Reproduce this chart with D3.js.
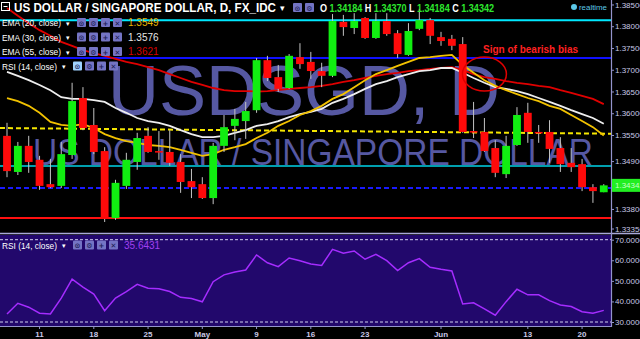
<!DOCTYPE html>
<html>
<head>
<meta charset="utf-8">
<script src="https://cdn.jsdelivr.net/npm/d3@7"></script>
<style>
  html, body { margin: 0; padding: 0; background: #000; }
  svg { display: block; font-family: "Liberation Sans", Arial, sans-serif; }
</style>
</head>
<body>
<svg id="chart" width="640" height="339"></svg>
<script>
// USD/SGD daily, 6 Apr - 22 Jun 2016
const opens  = [1.3548,1.3465,1.3525,1.3493,1.3437,1.3433,1.3504,1.3635,1.3573,1.3513,
                1.3359,1.3433,1.3488,1.3548,1.3513,1.3511,1.3488,1.3444,1.3437,1.3405,
                1.3525,1.3571,1.3582,1.3607,1.3722,1.3683,1.3658,1.3729,1.3718,1.3697,
                1.3686,1.3810,1.3796,1.3819,1.3773,1.3812,1.3784,1.3734,1.3794,1.3814,
                1.3775,1.3771,1.3759,1.3559,1.3557,1.3520,1.3460,1.3527,1.3601,1.3557,
                1.3557,1.3520,1.3486,1.3483,1.3430,1.34184];
const highs  = [1.3578,1.3534,1.3548,1.3502,1.3495,1.3534,1.3670,1.3660,1.3612,1.3522,
                1.3447,1.3509,1.3555,1.3568,1.3559,1.3561,1.3506,1.3472,1.3453,1.3532,
                1.3596,1.3610,1.3626,1.3727,1.3732,1.3711,1.3736,1.3761,1.3741,1.3716,
                1.3828,1.3826,1.3830,1.3821,1.3830,1.3830,1.3791,1.3807,1.3840,1.3819,
                1.3787,1.3780,1.3775,1.3626,1.3589,1.3538,1.3548,1.3614,1.3624,1.3573,
                1.3584,1.3545,1.3520,1.3495,1.3437,1.34370];
const lows   = [1.3453,1.3458,1.3463,1.3424,1.3428,1.3428,1.3495,1.3561,1.3506,1.3350,
                1.3355,1.3426,1.3470,1.3509,1.3493,1.3479,1.3417,1.3405,1.3403,1.3391,
                1.3511,1.3538,1.3541,1.3601,1.3674,1.3649,1.3656,1.3702,1.3679,1.3660,
                1.3683,1.3778,1.3782,1.3771,1.3771,1.3778,1.3727,1.3732,1.3791,1.3759,
                1.3755,1.3745,1.3555,1.3543,1.3511,1.3453,1.3451,1.3525,1.3532,1.3532,
                1.3486,1.3465,1.3465,1.3421,1.3394,1.34184];
const closes = [1.3467,1.3525,1.3488,1.3433,1.3430,1.3506,1.3628,1.3566,1.3511,1.3357,
                1.3440,1.3493,1.3543,1.3511,1.3511,1.3486,1.3442,1.3430,1.3405,1.3525,
                1.3568,1.3587,1.3605,1.3722,1.3681,1.3656,1.3732,1.3713,1.3697,1.3686,
                1.3812,1.3798,1.3812,1.3773,1.3812,1.3782,1.3736,1.3789,1.3814,1.3778,
                1.3766,1.3755,1.3557,1.3557,1.3513,1.3463,1.3525,1.3596,1.3557,1.3555,
                1.3518,1.3483,1.3476,1.3430,1.3421,1.34342];

const ema20 = [1.3635,1.3628,1.3617,1.3601,1.3580,1.3573,1.3571,1.3575,1.3566,1.3552,
               1.3543,1.3536,1.3532,1.3527,1.3525,1.3522,1.3516,1.3509,1.3502,1.3506,
               1.3516,1.3522,1.3529,1.3543,1.3555,1.3571,1.3582,1.3596,1.3605,1.3617,
               1.3633,1.3644,1.3660,1.3676,1.3690,1.3699,1.3709,1.3718,1.3727,1.3729,
               1.3732,1.3734,1.3711,1.3693,1.3676,1.3663,1.3653,1.3644,1.3635,1.3628,
               1.3617,1.3610,1.3596,1.3582,1.3568,1.3549];
const ema30 = [1.3695,1.3686,1.3676,1.3665,1.3653,1.3637,1.3633,1.3633,1.3630,1.3626,
               1.3612,1.3601,1.3589,1.3582,1.3578,1.3571,1.3561,1.3552,1.3545,1.3545,
               1.3548,1.3555,1.3561,1.3571,1.3575,1.3582,1.3591,1.3598,1.3603,1.3610,
               1.3624,1.3633,1.3644,1.3656,1.3667,1.3674,1.3683,1.3690,1.3697,1.3699,
               1.3704,1.3704,1.3693,1.3681,1.3670,1.3660,1.3656,1.3651,1.3644,1.3635,
               1.3626,1.3617,1.3607,1.3598,1.3589,1.3576];
const ema55 = [1.3842,1.3824,1.3807,1.3791,1.3778,1.3764,1.3755,1.3745,1.3738,1.3732,
               1.3725,1.3718,1.3713,1.3706,1.3699,1.3690,1.3681,1.3672,1.3665,1.3658,
               1.3653,1.3651,1.3651,1.3650,1.3651,1.3653,1.3656,1.3658,1.3660,1.3663,
               1.3667,1.3672,1.3676,1.3681,1.3686,1.3690,1.3693,1.3697,1.3699,1.3702,
               1.3704,1.3706,1.3699,1.3690,1.3683,1.3679,1.3674,1.3670,1.3667,1.3663,
               1.3660,1.3653,1.3647,1.3640,1.3633,1.3621];
const rsi14 = [33.9,39.1,37.2,34.3,33.9,41.6,50.8,46.9,43.6,35.5,
               41.6,44.8,48.3,46.4,46.2,44.8,42.0,41.4,39.8,49.6,
               52.9,54.3,55.3,62.6,58.8,56.9,61.1,59.8,58.2,57.5,
               65.3,63.4,64.5,60.5,62.9,59.8,55.0,58.8,60.8,56.6,
               55.6,54.8,38.8,39.3,36.4,33.3,39.9,45.9,43.2,43.2,
               40.4,38.3,37.5,35.0,34.3,35.6431];

const priceTicks = [1.385,1.38,1.375,1.37,1.365,1.36,1.355,1.349,1.338,1.3335];
const rsiTicks = [70,60,50,40,30];
const tickDays = ["2016-04-11","2016-04-18","2016-04-25","2016-05-02","2016-05-09",
                  "2016-05-16","2016-05-23","2016-06-01","2016-06-13","2016-06-20"];
const tickLabels = ["11","18","25","May","9","16","23","Jun","13","20"];

// drawn levels and the slanted trend line
const levels = [1.3814, 1.3727, 1.3479, 1.3428, 1.3359];
const trendLine = [1.3566, 1.3553];
const bearishMark = {day: 44, price: 1.3690};

const levelStyle = [
  {stroke: "#00e8ff", width: 2, dash: null},
  {stroke: "#1010ff", width: 2, dash: null},
  {stroke: "#00d4e8", width: 1.5, dash: null},
  {stroke: "#1a1aff", width: 2, dash: "5,3"},
  {stroke: "#ff1010", width: 2, dash: null}
];

const svg = d3.select("#chart");
const plotRight = 611;
const priceBottom = 231;

const parseDay = d3.utcParse("%Y-%m-%d");
const days = d3.utcDay.range(parseDay("2016-04-06"), parseDay("2016-06-23"))
  .filter(d => d.getUTCDay() % 6 !== 0);

const x = d3.scaleBand()
  .domain(days.map(d => +d))
  .range([1.58, 609.2])
  .paddingInner(0.28)
  .paddingOuter(0.14);
const cx = i => x(+days[i]) + x.bandwidth() / 2;

const y = d3.scaleLinear().domain([1.33293, 1.38603]).range([priceBottom, 0]);
const ry = d3.scaleLinear().domain([30, 70]).range([322, 239.7]);

svg.append("rect").attr("width", 640).attr("height", 339).attr("fill", "#000");

const defs = svg.append("defs");
defs.append("clipPath").attr("id", "clipPrice")
  .append("rect").attr("x", 0).attr("y", 0).attr("width", plotRight).attr("height", priceBottom);
defs.append("clipPath").attr("id", "clipRsi")
  .append("rect").attr("x", 0).attr("y", 235).attr("width", plotRight).attr("height", 91);

// watermark
const wm = svg.append("g").attr("fill", "#5658a2");
wm.append("text").attr("x", 108).attr("y", 115)
  .attr("font-size", 70).attr("textLength", 392).attr("lengthAdjust", "spacingAndGlyphs")
  .text("USDSGD, D");
wm.append("text").attr("x", 33).attr("y", 165)
  .attr("font-size", 36).attr("textLength", 560).attr("lengthAdjust", "spacingAndGlyphs")
  .text("US DOLLAR / SINGAPORE DOLLAR");

const price = svg.append("g").attr("clip-path", "url(#clipPrice)");

// horizontal levels
price.selectAll("line.level").data(levels).enter().append("line")
  .attr("class", "level")
  .attr("x1", 0).attr("x2", plotRight)
  .attr("y1", d => y(d)).attr("y2", d => y(d))
  .attr("stroke", (d, i) => levelStyle[i].stroke)
  .attr("stroke-width", (d, i) => levelStyle[i].width)
  .attr("stroke-dasharray", (d, i) => levelStyle[i].dash);

price.append("line")
  .attr("x1", 0).attr("x2", plotRight)
  .attr("y1", y(trendLine[0])).attr("y2", y(trendLine[1]))
  .attr("stroke", "#f5e600").attr("stroke-width", 2).attr("stroke-dasharray", "5,3");

// moving averages
const emaLine = d3.line().x((v, i) => cx(i)).y(v => y(v));
[[ema55, "#e00000"], [ema30, "#eeeeee"], [ema20, "#f2c200"]].forEach(([s, col]) => {
  price.append("path").datum(s)
    .attr("d", emaLine)
    .attr("fill", "none")
    .attr("stroke", col)
    .attr("stroke-width", 1.8);
});

// candles
const candles = days.map((d, i) => ({i, o: opens[i], h: highs[i], l: lows[i], c: closes[i]}));
const cg = price.selectAll("g.candle").data(candles).enter().append("g").attr("class", "candle");
cg.append("line")
  .attr("x1", d => cx(d.i)).attr("x2", d => cx(d.i))
  .attr("y1", d => y(d.h)).attr("y2", d => y(d.l))
  .attr("stroke", "#c4c4c4").attr("stroke-width", 1);
cg.append("rect")
  .attr("x", d => x(+days[d.i]))
  .attr("width", x.bandwidth())
  .attr("y", d => y(Math.max(d.o, d.c)))
  .attr("height", d => Math.max(1.5, Math.abs(y(d.o) - y(d.c))))
  .attr("fill", d => d.c >= d.o ? "#11ee11" : "#ff0a0a");

// annotation
const ann = svg.append("g");
ann.append("ellipse")
  .attr("cx", cx(bearishMark.day)).attr("cy", y(bearishMark.price))
  .attr("rx", 22).attr("ry", 17)
  .attr("fill", "none").attr("stroke", "#e00000").attr("stroke-width", 1.5);
ann.append("text").attr("x", 483).attr("y", 53)
  .attr("font-size", 10).attr("font-weight", "bold").attr("fill", "#ff2020")
  .text("Sign of bearish bias");

// pane separator
svg.append("line").attr("x1", 0).attr("x2", 640).attr("y1", 233.5).attr("y2", 233.5)
  .attr("stroke", "#a8a8d8").attr("stroke-width", 1.5);

// RSI pane
svg.append("rect").attr("x", 0).attr("y", 235).attr("width", plotRight).attr("height", 91)
  .attr("fill", "#22086c");
const rsiG = svg.append("g").attr("clip-path", "url(#clipRsi)");
[70, 30].forEach(v => {
  rsiG.append("line").attr("x1", 0).attr("x2", plotRight)
    .attr("y1", ry(v)).attr("y2", ry(v))
    .attr("stroke", "#d0d0ee").attr("stroke-width", 1).attr("stroke-dasharray", "3,2");
});
rsiG.append("path").datum(rsi14)
  .attr("d", d3.line().x((v, i) => cx(i)).y(v => ry(v)))
  .attr("fill", "none").attr("stroke", "#a52cff").attr("stroke-width", 1.5);

// right price axis
const axisCol = "#9494cc";
const yAxis = svg.append("g").attr("transform", `translate(${plotRight},0)`)
  .call(d3.axisRight(y).tickValues(priceTicks).tickFormat(d3.format(".5f")).tickSize(3).tickPadding(1));
const rAxis = svg.append("g").attr("transform", `translate(${plotRight},0)`)
  .call(d3.axisRight(ry).tickValues(rsiTicks).tickFormat(d3.format(".4f")).tickSize(3).tickPadding(1));
[yAxis, rAxis].forEach(g => {
  g.select(".domain").remove();
  g.selectAll(".tick line").attr("stroke", axisCol);
  g.selectAll(".tick text").attr("fill", "#c8c8e6").attr("font-size", 8)
    .attr("font-family", "Liberation Sans, Arial, sans-serif");
});
svg.append("line").attr("x1", plotRight + 0.5).attr("x2", plotRight + 0.5)
  .attr("y1", 0).attr("y2", 327).attr("stroke", axisCol).attr("stroke-width", 1.2);

// last price marker
const lastC = closes[closes.length - 1];
svg.append("rect").attr("x", plotRight + 1).attr("y", y(lastC) - 6.5)
  .attr("width", 640 - plotRight).attr("height", 13).attr("fill", "#22ee22");
svg.append("text").attr("x", plotRight + 4).attr("y", y(lastC) + 3)
  .attr("font-size", 8).attr("fill", "#c8ffc8").text(d3.format(".5f")(lastC));

// bottom time axis
const xAxis = svg.append("g").attr("transform", "translate(0,326)")
  .call(d3.axisBottom(x)
    .tickValues(tickDays.map(d => +parseDay(d)))
    .tickFormat((d, i) => tickLabels[i])
    .tickSize(3).tickPadding(2));
xAxis.select(".domain").attr("stroke", axisCol).attr("d", `M0,0.5H${plotRight}`);
xAxis.selectAll(".tick line").attr("stroke", axisCol);
xAxis.selectAll(".tick text").attr("fill", "#c8c8e6").attr("font-size", 8)
  .attr("font-weight", "bold").attr("font-family", "Liberation Sans, Arial, sans-serif");

// header
const iconBox = (g, bx, by, fill, glyph) => {
  g.append("rect").attr("x", bx).attr("y", by).attr("width", 9).attr("height", 9)
    .attr("fill", fill).attr("rx", 1);
  g.append("text").attr("x", bx + 4.5).attr("y", by + 7.5).attr("text-anchor", "middle")
    .attr("font-size", 7).attr("font-weight", "bold").attr("fill", "#1c1c55")
    .attr("font-family", "DejaVu Sans, sans-serif").text(glyph);
};

const head = svg.append("g");
head.append("rect").attr("x", 1.5).attr("y", 2.5).attr("width", 8).attr("height", 8)
  .attr("fill", "none").attr("stroke", "#fff").attr("stroke-width", 1);
head.append("line").attr("x1", 3.5).attr("x2", 7.5).attr("y1", 6.5).attr("y2", 6.5)
  .attr("stroke", "#fff");
head.append("text").attr("x", 14).attr("y", 11.5)
  .attr("font-size", 12).attr("font-weight", "bold").attr("fill", "#fff")
  .attr("textLength", 262).attr("lengthAdjust", "spacingAndGlyphs")
  .text("US DOLLAR / SINGAPORE DOLLAR, D, FX_IDC");
head.append("text").attr("x", 280).attr("y", 11).attr("font-size", 9).attr("fill", "#fff")
  .attr("font-family", "DejaVu Sans, sans-serif").text("▾");
iconBox(head, 293, 3, "#7474c4", "⊙");
iconBox(head, 305, 3, "#7474c4", "⚙");

const ohlc = head.append("text").attr("x", 320).attr("y", 11.5)
  .attr("font-size", 10).attr("font-weight", "bold")
  .attr("textLength", 174).attr("lengthAdjust", "spacingAndGlyphs");
[["O ", opens], [" H ", highs], [" L ", lows], [" C ", closes]].forEach(([k, s]) => {
  ohlc.append("tspan").attr("fill", "#fff").text(k);
  ohlc.append("tspan").attr("fill", "#2ee82e").text(d3.format(".5f")(s[s.length - 1]));
});

head.append("circle").attr("cx", 574).attr("cy", 7).attr("r", 3).attr("fill", "#5cc8e8");
head.append("text").attr("x", 579).attr("y", 10).attr("font-size", 8)
  .attr("textLength", 28).attr("lengthAdjust", "spacingAndGlyphs")
  .attr("fill", "#5cc8e8").text("realtime");

// legend rows
const legendRows = [
  {label: "EMA (20, close)", value: ema20[ema20.length - 1].toFixed(4), col: "#e8b400", y: 26, ix: 77, w: 59},
  {label: "EMA (30, close)", value: ema30[ema30.length - 1].toFixed(4), col: "#e6e6e6", y: 40.5, ix: 77, w: 59},
  {label: "EMA (55, close)", value: ema55[ema55.length - 1].toFixed(4), col: "#d40000", y: 55, ix: 77, w: 59},
  {label: "RSI (14, close)", value: null, col: null, y: 69.5, ix: 73, w: 55, first: "#9fd2ff"},
  {label: "RSI (14, close)", value: rsi14[rsi14.length - 1].toFixed(4), col: "#a040f0", y: 248.5, ix: 73, w: 55, vx: 124}
];
const leg = svg.append("g");
legendRows.forEach(r => {
  leg.append("text").attr("x", 2).attr("y", r.y).attr("font-size", 9.5).attr("fill", "#fff")
    .attr("textLength", r.w).attr("lengthAdjust", "spacingAndGlyphs")
    .text(r.label);
  leg.append("text").attr("x", r.w + 7).attr("y", r.y - 0.5).attr("font-size", 7).attr("fill", "#fff")
    .attr("font-family", "DejaVu Sans, sans-serif").text("▾");
  ["⊙", "⚙", "+", "✕"].forEach((gl, k) => {
    iconBox(leg, r.ix + k * 12, r.y - 8, k === 0 && r.first ? r.first : "#7474c4", gl);
  });
  if (r.value) {
    leg.append("text").attr("x", r.vx || 128).attr("y", r.y).attr("font-size", 10)
      .attr("fill", r.col).text(r.value);
  }
});
</script>
</body>
</html>
